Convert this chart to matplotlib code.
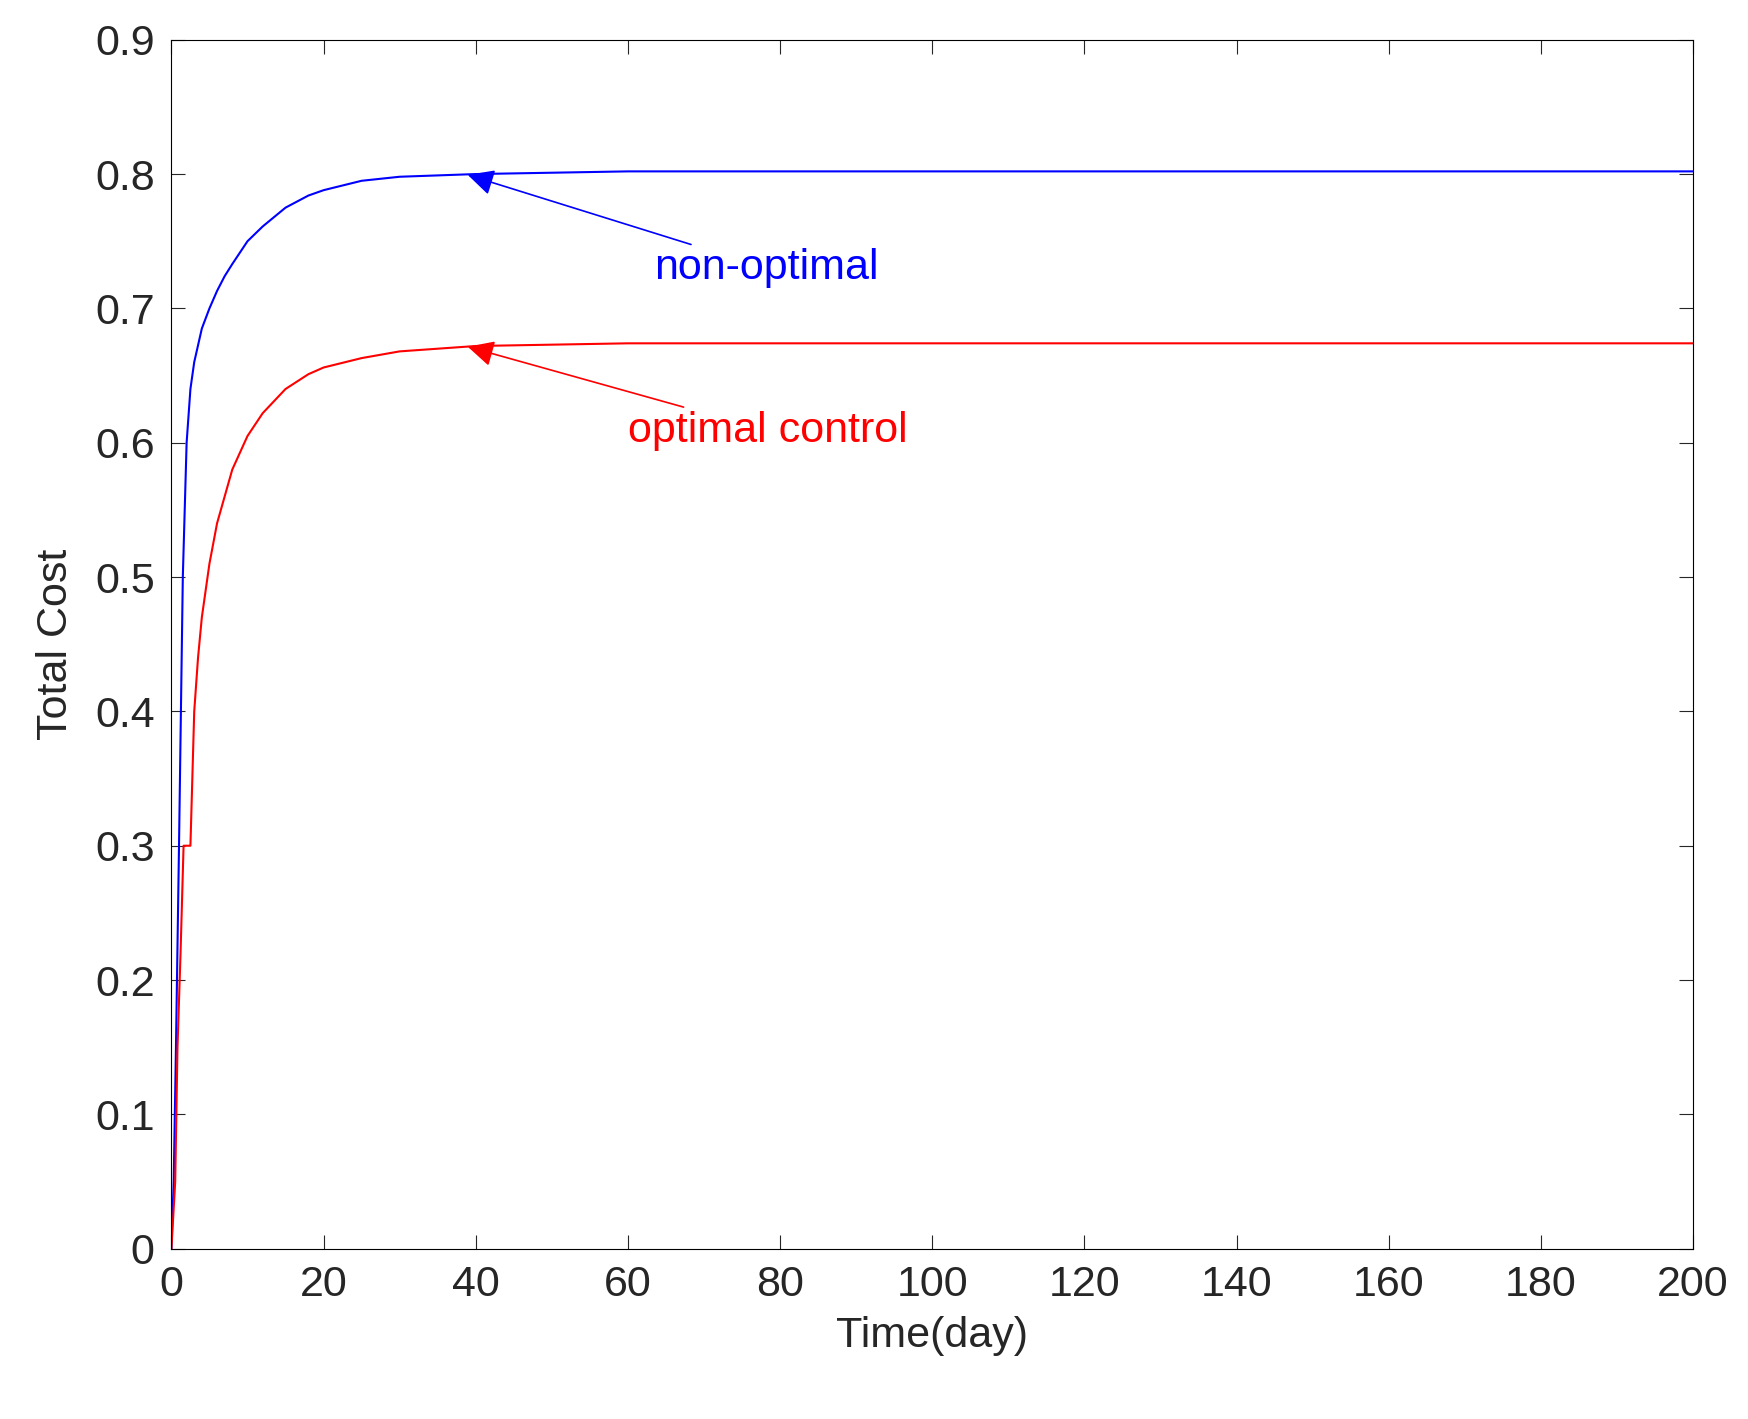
import matplotlib
matplotlib.use("Agg")
import matplotlib.pyplot as plt

plt.rcParams['font.family'] = 'Liberation Sans'

t_blue = [0, 0.3, 0.6, 1.0, 1.5, 2, 2.5, 3, 4, 5, 6, 7, 8, 10, 12, 15, 18, 20, 25, 30, 40, 60, 100, 200]
c_blue = [0, 0.05, 0.15, 0.3, 0.5, 0.6, 0.64, 0.66, 0.685, 0.70, 0.713, 0.724, 0.733, 0.75, 0.761, 0.775, 0.784, 0.788, 0.795, 0.798, 0.80, 0.802, 0.802, 0.802]
t_red = [0, 0.5, 0.8, 1.2, 1.6, 2.5, 3, 3.5, 4, 5, 6, 7, 8, 10, 12, 15, 18, 20, 25, 30, 40, 60, 100, 200]
c_red = [0, 0.05, 0.15, 0.22, 0.30, 0.30, 0.40, 0.44, 0.47, 0.51, 0.54, 0.56, 0.58, 0.605, 0.622, 0.64, 0.651, 0.656, 0.663, 0.668, 0.672, 0.674, 0.674, 0.674]

fig = plt.figure(figsize=(17.49, 14.19), dpi=100)
ax = fig.add_axes([0.098, 0.12, 0.87, 0.852])
ax.plot(t_blue, c_blue, color='blue', lw=1.5)
ax.plot(t_red, c_red, color='red', lw=1.5)
ax.set_xlim(0, 200)
ax.set_ylim(0, 0.9)
ax.set_xticks(range(0, 201, 20))
ax.set_yticks([i/10 for i in range(10)])
ax.set_yticklabels(['0'] + [f'{i/10:.1f}' for i in range(1, 10)])
ax.tick_params(labelsize=31, direction='in', top=True, right=True, length=10, pad=12,
               color='#262626', labelcolor='#262626')
ax.set_xlabel('Time(day)', fontsize=31, color='#262626', labelpad=8)
ax.set_ylabel('Total Cost', fontsize=31, color='#262626', labelpad=14)
ax.annotate('non-optimal', xy=(38.6, 0.8), xytext=(63.5, 0.73), color='blue', fontsize=31,
            va='center', arrowprops=dict(arrowstyle='-|>', color='blue', lw=1.2, mutation_scale=40))
ax.annotate('optimal control', xy=(38.6, 0.672), xytext=(60, 0.609), color='red', fontsize=31,
            va='center', arrowprops=dict(arrowstyle='-|>', color='red', lw=1.2, mutation_scale=40))
fig.savefig('out.png', dpi=100)
